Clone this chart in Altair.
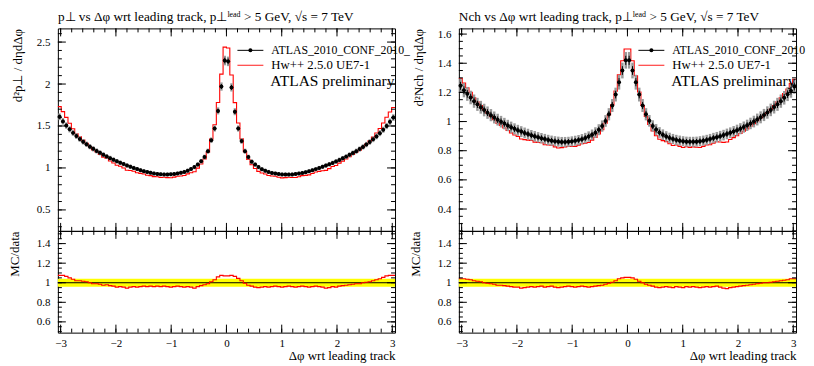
import altair as alt
import numpy as np
import pandas as pd

FONT = "Liberation Serif"
W, H_MAIN, H_RATIO = 338, 203, 102
X_DOMAIN = [-3.05, 3.05]
N_BINS = 100

# ---------------- data ----------------
# pT density vs dphi (data), bins from -3.05 to 3.05
left_data = [
    1.61, 1.555, 1.505, 1.46, 1.418, 1.38, 1.345, 1.312, 1.282, 1.254,
    1.228, 1.203, 1.18, 1.158, 1.137, 1.117, 1.098, 1.08, 1.062, 1.046,
    1.03, 1.015, 1.0, 0.987, 0.974, 0.962, 0.951, 0.942, 0.934, 0.928,
    0.924, 0.922, 0.922, 0.924, 0.928, 0.934, 0.942, 0.953, 0.968, 0.987,
    1.01, 1.04, 1.08, 1.13, 1.20, 1.33, 1.47, 1.68, 1.97, 2.28,
    2.27, 1.96, 1.67, 1.47, 1.32, 1.20, 1.13, 1.075, 1.04, 1.01,
    0.985, 0.967, 0.953, 0.941, 0.933, 0.927, 0.923, 0.921, 0.921, 0.923,
    0.927, 0.933, 0.941, 0.95, 0.961, 0.973, 0.986, 0.999, 1.013, 1.028,
    1.044, 1.06, 1.078, 1.096, 1.115, 1.135, 1.156, 1.178, 1.2, 1.225,
    1.251, 1.279, 1.309, 1.341, 1.376, 1.414, 1.455, 1.5, 1.55, 1.6,
]
# MC / data ratio, left panel
left_ratio = [
    1.075, 1.075, 1.065, 1.05, 1.035, 1.02, 1.02, 1.015, 1.01, 1.0,
    0.99, 0.99, 0.985, 0.975, 0.98, 0.97, 0.965, 0.955, 0.96, 0.955,
    0.945, 0.955, 0.96, 0.955, 0.96, 0.965, 0.96, 0.965, 0.96, 0.965,
    0.96, 0.965, 0.96, 0.955, 0.96, 0.965, 0.96, 0.955, 0.96, 0.955,
    0.945, 0.96, 0.97, 0.98, 0.99, 1.01, 1.03, 1.06, 1.075, 1.07,
    1.07, 1.075, 1.065, 1.045, 1.02, 0.995, 0.975, 0.965, 0.955, 0.95,
    0.955, 0.96, 0.955, 0.96, 0.965, 0.96, 0.955, 0.96, 0.965, 0.96,
    0.955, 0.96, 0.965, 0.96, 0.955, 0.96, 0.965, 0.96, 0.955, 0.945,
    0.95, 0.96, 0.955, 0.965, 0.97, 0.975, 0.98, 0.985, 0.99, 0.99,
    1.0, 1.005, 1.01, 1.02, 1.03, 1.04, 1.055, 1.07, 1.075, 1.075,
]
# Nch density vs dphi (data)
right_data = [
    1.245, 1.215, 1.19, 1.165, 1.14, 1.118, 1.098, 1.079, 1.061, 1.044,
    1.028, 1.013, 0.999, 0.986, 0.973, 0.961, 0.95, 0.94, 0.931, 0.922,
    0.914, 0.906, 0.899, 0.892, 0.886, 0.88, 0.874, 0.869, 0.865, 0.862,
    0.86, 0.86, 0.861, 0.864, 0.868, 0.873, 0.879, 0.887, 0.897, 0.909,
    0.924, 0.944, 0.969, 1.004, 1.05, 1.11, 1.185, 1.27, 1.35, 1.42,
    1.42, 1.35, 1.27, 1.185, 1.11, 1.05, 1.005, 0.97, 0.945, 0.925,
    0.91, 0.898, 0.888, 0.88, 0.874, 0.869, 0.865, 0.862, 0.861, 0.861,
    0.862, 0.865, 0.869, 0.874, 0.88, 0.887, 0.893, 0.9, 0.907, 0.915,
    0.923, 0.932, 0.941, 0.951, 0.962, 0.974, 0.987, 1.0, 1.014, 1.029,
    1.045, 1.062, 1.08, 1.099, 1.118, 1.14, 1.163, 1.188, 1.212, 1.24,
]
right_ratio = [
    1.04, 1.04, 1.035, 1.03, 1.02, 1.015, 1.01, 1.0, 0.995, 0.99,
    0.985, 0.975, 0.975, 0.97, 0.965, 0.96, 0.955, 0.955, 0.945, 0.95,
    0.955, 0.96, 0.955, 0.96, 0.965, 0.955, 0.96, 0.965, 0.955, 0.95,
    0.955, 0.96, 0.965, 0.96, 0.955, 0.96, 0.965, 0.96, 0.955, 0.96,
    0.965, 0.97, 0.975, 0.985, 0.995, 1.005, 1.02, 1.04, 1.05, 1.055,
    1.055, 1.05, 1.035, 1.015, 1.0, 0.985, 0.975, 0.965, 0.955, 0.95,
    0.955, 0.96, 0.955, 0.95, 0.96, 0.955, 0.95, 0.96, 0.955, 0.96,
    0.955, 0.95, 0.955, 0.96, 0.955, 0.96, 0.965, 0.955, 0.945, 0.94,
    0.95, 0.955, 0.96, 0.965, 0.97, 0.975, 0.98, 0.985, 0.99, 0.995,
    1.0, 1.0, 1.005, 1.01, 1.015, 1.02, 1.025, 1.03, 1.04, 1.04,
]
left_stat_err, left_tot_err = 0.015, 0.025     # relative errors
right_stat_err, right_tot_err = 0.022, 0.04
band_half_width = 0.04                         # yellow band in ratio

x_major = [-3, -2, -1, 0, 1, 2, 3]
left_y_labels = [0.5, 1, 1.5, 2, 2.5]
right_y_labels = [0.4, 0.6, 0.8, 1, 1.2, 1.4, 1.6]
ratio_y_labels = [0.6, 0.8, 1, 1.2, 1.4]

left_title = "p⊥ vs Δφ wrt leading track, p⊥ˡᵉᵃᵈ > 5 GeV, √s = 7 TeV"
right_title = "Nch vs Δφ wrt leading track, p⊥ˡᵉᵃᵈ > 5 GeV, √s = 7 TeV"
left_ytitle = "d²p⊥ / dηdΔφ"
right_ytitle = "d²Nch / dηdΔφ"
legend_data = "ATLAS_2010_CONF_2010_081"
legend_mc = "Hw++ 2.5.0 UE7-1"
legend_label = "ATLAS preliminary"


def grid(lo, hi, step):
    return [round(v, 3) for v in np.arange(lo, hi + step / 2, step)]


def in_dom(vals, dom):
    return [v for v in vals if dom[0] <= v <= dom[1]]


ONE = pd.DataFrame({"a": [0]})


def tick_layers(H, xscale, yscale, xaxis, yaxis, ymaj, ymin, ydom):
    layers = []
    xmin = grid(-3, 3, 0.2)
    for vals, L in [(x_major, 8), (xmin, 4)]:
        df = pd.DataFrame({"tv": in_dom(vals, X_DOMAIN)})
        b = alt.Chart(df).mark_rule(color="black", strokeWidth=1)
        xe = alt.X("tv:Q", scale=xscale, axis=xaxis)
        layers.append(b.encode(x=xe, y=alt.value(0), y2=alt.value(L)))
        layers.append(b.encode(x=xe, y=alt.value(H), y2=alt.value(H - L)))
    for vals, L in [(ymaj, 8), (ymin, 4)]:
        df = pd.DataFrame({"tv": in_dom(vals, ydom)})
        b = alt.Chart(df).mark_rule(color="black", strokeWidth=1)
        ye = alt.Y("tv:Q", scale=yscale, axis=yaxis)
        layers.append(b.encode(y=ye, x=alt.value(0), x2=alt.value(L)))
        layers.append(b.encode(y=ye, x=alt.value(W), x2=alt.value(W - L)))
    return layers


def make_panel(data_vals, ratio_vals, stat_e, tot_e, ydom, ylabels, ymaj, ymin,
               ytitle, title, legend_limit):
    edges = np.linspace(X_DOMAIN[0], X_DOMAIN[1], N_BINS + 1)
    lo, hi = edges[:-1], edges[1:]
    ctr = (lo + hi) / 2
    d = np.array(data_vals)
    r = np.array(ratio_vals)
    mc = d * r
    df = pd.DataFrame({
        "x": ctr, "lo": lo, "hi": hi, "y": d,
        "s_lo": d * (1 - stat_e), "s_hi": d * (1 + stat_e),
        "t_lo": d * (1 - tot_e), "t_hi": d * (1 + tot_e),
    })
    step = pd.DataFrame({
        "sx": np.ravel(np.column_stack([lo, hi])),
        "sy": np.repeat(mc, 2),
        "sr": np.repeat(r, 2),
        "o": np.arange(2 * N_BINS),
    })

    xscale = alt.Scale(domain=X_DOMAIN, nice=False, zero=False)
    yscale = alt.Scale(domain=ydom, nice=False, zero=False)
    rdom = [0.49, 1.53]
    rscale = alt.Scale(domain=rdom, nice=False, zero=False)

    yaxis = alt.Axis(values=ylabels, format="~g", ticks=False, tickSize=0, domain=False,
                     grid=False, labelFont=FONT, labelFontSize=11, labelColor="black",
                     labelPadding=8, title=ytitle, titleFont=FONT, titleFontSize=13,
                     titleFontWeight="normal", titleColor="black", titleX=-40, titleY=0,
                     titleAngle=270, titleAlign="right", titleBaseline="middle")
    raxis = alt.Axis(values=ratio_y_labels, format="~g", ticks=False, tickSize=0,
                     domain=False, grid=False, labelFont=FONT, labelFontSize=11,
                     labelColor="black", labelPadding=8, title="MC/data", titleFont=FONT,
                     titleFontSize=13, titleFontWeight="normal", titleColor="black",
                     titleX=-43, titleY=0, titleAngle=270, titleAlign="right",
                     titleBaseline="middle")
    xaxis = alt.Axis(values=x_major, format="d", ticks=False, tickSize=0, domain=False,
                     grid=False, labelFont=FONT, labelFontSize=11, labelColor="black",
                     labelPadding=5, labelFlush=False, title="Δφ wrt leading track",
                     titleFont=FONT, titleFontSize=13, titleFontWeight="normal",
                     titleColor="black", titleX=W, titleY=23, titleAlign="right",
                     titleBaseline="middle")

    base = alt.Chart(df)
    X = alt.X("x:Q", scale=xscale, axis=None)
    mc_line = alt.Chart(step).mark_line(color="#ff0000", strokeWidth=1.1).encode(
        x=alt.X("sx:Q", scale=xscale, axis=None),
        y=alt.Y("sy:Q", scale=yscale, axis=yaxis), order="o:Q")
    tot = base.mark_rule(color="#9a9a9a", strokeWidth=2.5).encode(
        x=X, y=alt.Y("t_lo:Q", scale=yscale, axis=yaxis), y2="t_hi:Q")
    stat = base.mark_rule(color="black", strokeWidth=1).encode(
        x=X, y=alt.Y("s_lo:Q", scale=yscale, axis=yaxis), y2="s_hi:Q")
    xerr = base.mark_rule(color="black", strokeWidth=1).encode(
        x=alt.X("lo:Q", scale=xscale, axis=None), x2="hi:Q",
        y=alt.Y("y:Q", scale=yscale, axis=yaxis))
    pts = base.mark_circle(size=16, color="black", opacity=1).encode(
        x=X, y=alt.Y("y:Q", scale=yscale, axis=yaxis))

    one = alt.Chart(ONE)
    leg = [
        one.mark_rule(color="black", strokeWidth=1).encode(
            x=alt.value(180), x2=alt.value(206), y=alt.value(22)),
        one.mark_circle(size=16, color="black", opacity=1).encode(
            x=alt.value(193), y=alt.value(22)),
        one.mark_text(align="left", baseline="middle", font=FONT, fontSize=11.8,
                      color="black", limit=legend_limit, ellipsis="\u200b",
                      text=legend_data).encode(x=alt.value(214), y=alt.value(22)),
        one.mark_rule(color="#ff4040", strokeWidth=1.2).encode(
            x=alt.value(180), x2=alt.value(206), y=alt.value(37)),
        one.mark_text(align="left", baseline="middle", font=FONT, fontSize=12.8,
                      color="black", text=legend_mc).encode(x=alt.value(214), y=alt.value(37)),
        one.mark_text(align="left", baseline="middle", font=FONT, fontSize=15.5,
                      color="black", text=legend_label).encode(x=alt.value(213), y=alt.value(53)),
    ]

    main = alt.layer(
        mc_line, tot, stat, xerr, pts,
        *tick_layers(H_MAIN, xscale, yscale, None, yaxis, ymaj, ymin, ydom),
        *leg,
    ).properties(
        width=W, height=H_MAIN,
        title=alt.TitleParams(text=title, anchor="start", frame="group", font=FONT,
                              fontSize=13.3, fontWeight="normal", color="black", offset=5),
    )

    band = alt.Chart(pd.DataFrame({"x0": [X_DOMAIN[0]], "x1": [X_DOMAIN[1]],
                                   "b0": [1 - band_half_width], "b1": [1 + band_half_width]}))
    band = band.mark_rect(color="#ffff00").encode(
        x=alt.X("x0:Q", scale=xscale, axis=xaxis), x2="x1:Q",
        y=alt.Y("b0:Q", scale=rscale, axis=raxis), y2="b1:Q")
    unity = alt.Chart(pd.DataFrame({"u": [1.0]})).mark_rule(color="black", strokeWidth=1).encode(
        y=alt.Y("u:Q", scale=rscale, axis=raxis))
    rline = alt.Chart(step).mark_line(color="#ff0000", strokeWidth=1.1).encode(
        x=alt.X("sx:Q", scale=xscale, axis=xaxis),
        y=alt.Y("sr:Q", scale=rscale, axis=raxis), order="o:Q")
    ratio = alt.layer(
        band, unity, rline,
        *tick_layers(H_RATIO, xscale, rscale, xaxis, raxis, ratio_y_labels,
                     grid(0.5, 1.5, 0.05), rdom),
    ).properties(width=W, height=H_RATIO)

    return main, ratio


main_l, ratio_l = make_panel(left_data, left_ratio, left_stat_err, left_tot_err,
                             [0.25, 2.663], left_y_labels, left_y_labels,
                             grid(0.3, 2.6, 0.1), left_ytitle, left_title, 139)
main_r, ratio_r = make_panel(right_data, right_ratio, right_stat_err, right_tot_err,
                             [0.25, 1.639], right_y_labels, right_y_labels,
                             grid(0.25, 1.6, 0.05), right_ytitle, right_title, 134)

chart = alt.concat(
    main_l, main_r, ratio_l, ratio_r, columns=2,
    spacing={"row": 0, "column": 64},
    bounds="flush",
).properties(
    padding={"left": 0, "top": 0, "right": 0, "bottom": 0},
    background="white",
).configure_view(stroke="black", strokeWidth=1)

chart.save("out.html", embed_options={"renderer": "svg", "actions": False})
